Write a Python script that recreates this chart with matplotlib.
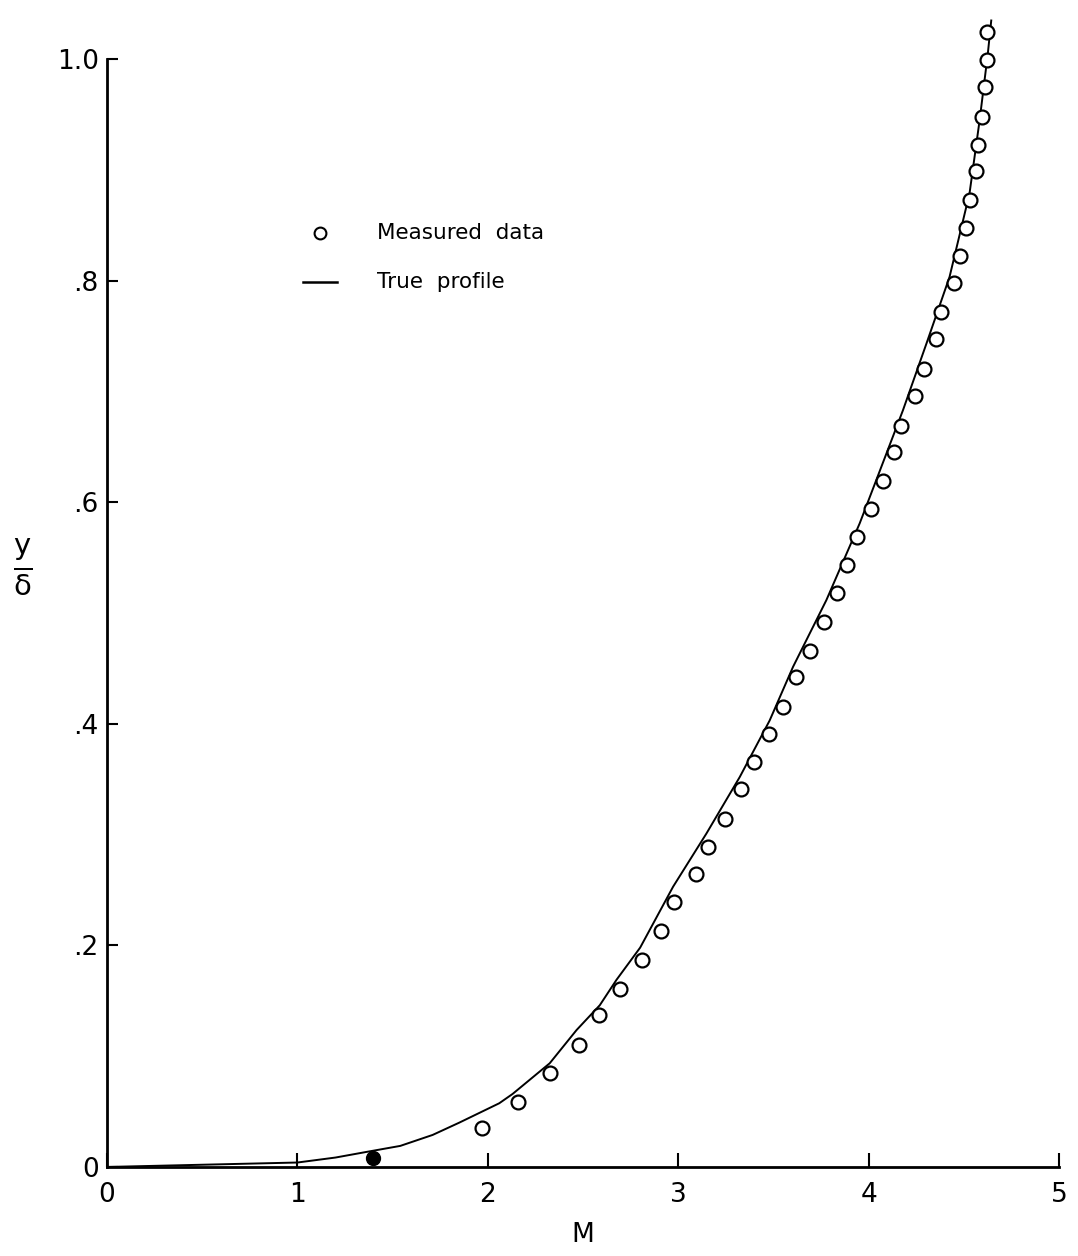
import matplotlib
matplotlib.use("Agg")
import matplotlib.pyplot as plt

# Measured data (open circles)
meas_M = [1.967, 2.159, 2.325, 2.478, 2.584, 2.694, 2.812, 2.908, 2.978, 3.093,
          3.156, 3.244, 3.328, 3.398, 3.477, 3.550, 3.620, 3.690, 3.765, 3.836,
          3.888, 3.939, 4.010, 4.073, 4.133, 4.172, 4.241, 4.290, 4.352, 4.382,
          4.448, 4.481, 4.509, 4.534, 4.565, 4.574, 4.595, 4.609, 4.621, 4.621]
meas_y = [0.0355, 0.0584, 0.0851, 0.1101, 0.1372, 0.1606, 0.1868, 0.2133, 0.2389, 0.2642,
          0.2891, 0.3141, 0.3412, 0.3653, 0.3911, 0.4154, 0.4420, 0.4660, 0.4916, 0.5178,
          0.5433, 0.5683, 0.5936, 0.6191, 0.6456, 0.6690, 0.6958, 0.7208, 0.7479, 0.7719,
          0.7981, 0.8222, 0.8481, 0.8727, 0.8989, 0.9224, 0.9479, 0.9750, 0.9991, 1.0247]

# Filled point
filled_M = [1.396]
filled_y = [0.008]

# True profile (solid line)
true_M = [0.0, 1.0, 1.20, 1.37, 1.54, 1.71, 1.85, 2.06, 2.13, 2.325, 2.466, 2.588, 2.676,
          2.80, 2.973, 3.148, 3.323, 3.48, 3.603, 3.778, 3.953, 4.04, 4.18, 4.303,
          4.425, 4.53, 4.583, 4.626, 4.644]
true_y = [0.0, 0.004, 0.0085, 0.0138, 0.0190, 0.0289, 0.040, 0.0575, 0.0659, 0.0936, 0.1236,
          0.146, 0.169, 0.198, 0.253, 0.301, 0.352, 0.403, 0.4515, 0.5117, 0.581,
          0.620, 0.683, 0.743, 0.8035, 0.879, 0.945, 1.005, 1.035]

x_ticks = [0, 1, 2, 3, 4, 5]
x_labels = ["0", "1", "2", "3", "4", "5"]
y_ticks = [0, 0.2, 0.4, 0.6, 0.8, 1.0]
y_labels = ["0", ".2", ".4", ".6", ".8", "1.0"]

plt.rcParams['font.family'] = ['DejaVu Sans']

fig = plt.figure(figsize=(10.78, 12.56), dpi=100)
ax = fig.add_axes([0.0993, 0.0709, 0.8831, 0.9172])

ax.plot(true_M, true_y, color='black', lw=1.4, zorder=2, clip_on=False)
ax.plot(meas_M, meas_y, linestyle='none', marker='o', ms=10, mfc='white',
        mec='black', mew=1.6, zorder=3, clip_on=False)
ax.plot(filled_M, filled_y, linestyle='none', marker='o', ms=10, mfc='black',
        mec='black', zorder=3, clip_on=False)

ax.set_xlim(0, 5)
ax.set_ylim(0, 1.04)

for s in ['top', 'right']:
    ax.spines[s].set_visible(False)
ax.spines['left'].set_bounds(0, 1.0)
ax.spines['left'].set_linewidth(2.0)
ax.spines['bottom'].set_linewidth(2.0)

ax.set_xticks(x_ticks)
ax.set_xticklabels(x_labels)
ax.set_yticks(y_ticks)
ax.set_yticklabels(y_labels)
ax.tick_params(axis='x', direction='in', length=10, width=1.5, pad=11, labelsize=19)
ax.tick_params(axis='y', direction='in', length=8, width=1.5, pad=6, labelsize=19)

ax.set_xlabel('M', fontsize=19, labelpad=10)
ax.set_ylabel(r'$\frac{\mathrm{y}}{\mathrm{\delta}}$', fontsize=30, rotation=0, va='center')
ax.yaxis.set_label_coords(-0.088, 0.52)

# Legend drawn manually
ax.plot([0.2237], [0.8108], transform=ax.transAxes, marker='o', ms=8.5, mfc='white',
        mec='black', mew=1.5, linestyle='none', clip_on=False)
ax.text(0.2836, 0.8108, 'Measured  data', transform=ax.transAxes, fontsize=15.5,
        va='center', ha='left')
ax.plot([0.2059, 0.2416], [0.7682, 0.7682], transform=ax.transAxes, color='black',
        lw=1.8, clip_on=False)
ax.text(0.2836, 0.7682, 'True  profile', transform=ax.transAxes, fontsize=15.5,
        va='center', ha='left')

fig.savefig('out.png', dpi=100)
